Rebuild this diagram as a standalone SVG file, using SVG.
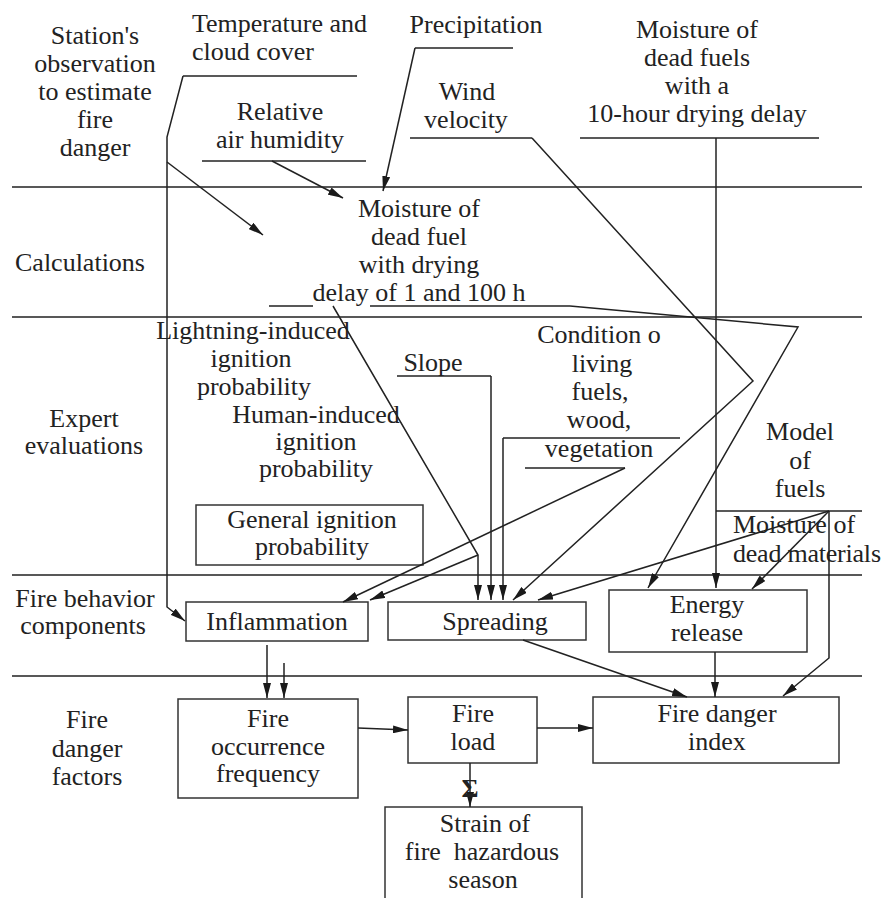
<svg xmlns="http://www.w3.org/2000/svg" width="885" height="898" viewBox="0 0 885 898">
<style>
text{font-family:"Liberation Serif","DejaVu Serif",serif;font-size:26px;fill:#222;text-anchor:middle}
.l{text-anchor:start}
.ln{stroke:#222;stroke-width:1.5;fill:none}
.bx{stroke:#333;stroke-width:1.5;fill:none}
.ar{stroke:#222;stroke-width:1.5;fill:none;marker-end:url(#ah)}
</style>
<defs>
<marker id="ah" viewBox="0 0 15 8" refX="15" refY="4" markerWidth="15" markerHeight="8" orient="auto" markerUnits="userSpaceOnUse"><path d="M0,0 L15,4 L0,8 z" fill="#1a1a1a"/></marker>
</defs>
<rect width="885" height="898" fill="#fff"/>
<g id="lanes">
<path class="ln" d="M12,187H862M12,317H862M12,575H862M12,676H862"/>
</g>
<g id="lane-station"><text x="95" y="44">Station's</text><text x="95" y="72">observation</text><text x="95" y="100">to estimate</text><text x="95" y="128">fire</text><text x="95" y="156">danger</text></g>
<g id="lane-calc"><text x="80" y="271">Calculations</text></g>
<g id="lane-expert"><text x="84" y="427">Expert</text><text x="84" y="454">evaluations</text></g>
<g id="lane-behavior"><text x="85" y="607">Fire behavior</text><text x="83" y="634">components</text></g>
<g id="lane-factors"><text x="87" y="728">Fire</text><text x="87" y="757">danger</text><text x="87" y="785">factors</text></g>

<g id="temperature"><text class="l" x="192" y="32">Temperature and</text><text class="l" x="192" y="60">cloud cover</text></g>
<g id="humidity"><text x="280" y="120">Relative</text><text x="280" y="148">air humidity</text></g>
<g id="precipitation"><text x="476" y="33">Precipitation</text></g>
<g id="wind"><text x="467" y="100">Wind</text><text x="466" y="128">velocity</text></g>
<g id="moisture10"><text x="697" y="38">Moisture of</text><text x="697" y="66">dead fuels</text><text x="697" y="94">with a</text><text x="697" y="122">10-hour drying delay</text></g>
<g id="moisture1-100"><text x="419" y="217">Moisture of</text><text x="419" y="245">dead fuel</text><text x="419" y="273">with drying</text><text x="419" y="301">delay of 1 and 100 h</text></g>
<g id="lightning"><text x="253" y="339">Lightning-induced</text><text x="251" y="367">ignition</text><text x="254" y="395">probability</text></g>
<g id="human"><text x="316" y="423">Human-induced</text><text x="316" y="450">ignition</text><text x="316" y="477">probability</text></g>
<g id="general"><rect class="bx" x="196" y="505" width="227" height="60"/><text x="312" y="528">General ignition</text><text x="312" y="555">probability</text></g>
<g id="slope"><text x="433" y="371">Slope</text></g>
<g id="condition"><text x="599" y="343">Condition o</text><text x="602" y="372">living</text><text x="600" y="400">fuels,</text><text x="599" y="428">wood,</text><text x="599" y="457">vegetation</text></g>
<g id="model"><text x="800" y="440">Model</text><text x="800" y="469">of</text><text x="800" y="497">fuels</text></g>
<g id="dead-materials"><text class="l" x="733" y="533">Moisture of</text><text class="l" x="733" y="562" textLength="148">dead materials</text></g>
<g id="inflammation"><rect class="bx" x="186" y="602" width="182" height="39"/><text x="277" y="630">Inflammation</text></g>
<g id="spreading"><rect class="bx" x="388" y="602" width="198" height="38"/><text x="495" y="630">Spreading</text></g>
<g id="energy"><rect class="bx" x="609" y="590" width="198" height="62"/><text x="707" y="613">Energy</text><text x="707" y="641">release</text></g>
<g id="occurrence"><rect class="bx" x="178" y="699" width="180" height="99"/><text x="268" y="727">Fire</text><text x="268" y="755">occurrence</text><text x="268" y="782">frequency</text></g>
<g id="load"><rect class="bx" x="408" y="697" width="129" height="66"/><text x="473" y="722">Fire</text><text x="473" y="750">load</text></g>
<g id="index"><rect class="bx" x="593" y="697" width="246" height="66"/><text x="717" y="722">Fire danger</text><text x="717" y="750">index</text></g>
<g id="strain"><rect class="bx" x="385" y="807" width="197" height="110"/><text x="485" y="832">Strain of</text><text x="482" y="860" xml:space="preserve">fire  hazardous</text><text x="483" y="888">season</text></g>

<g id="connectors">
<path class="ln" d="M183,76H357"/>
<path class="ar" d="M183,76L167,137V607L185,621"/>
<path class="ar" d="M167,162L263,235"/>
<path class="ln" d="M202,161H366"/>
<path class="ar" d="M272,161L343,198"/>
<path class="ln" d="M415,48H513"/>
<path class="ar" d="M415,48L383,191"/>
<path class="ln" d="M410,138H532"/>
<path class="ar" d="M532,138L753,381L513,600"/>
<path class="ln" d="M580,138H819"/>
<path class="ar" d="M716,138V588"/>
<path class="ln" d="M269,306H313M370,306H570"/>
<path class="ar" d="M570,306L798,327L648,588"/>
<path class="ar" d="M333,306L478,555V600"/>
<path class="ar" d="M478,555L370,600"/>
<path class="ln" d="M397,376H491"/>
<path class="ar" d="M491,376V600"/>
<path class="ln" d="M503,438H680"/>
<path class="ar" d="M503,438V600"/>
<path class="ln" d="M525,468H625"/>
<path class="ar" d="M625,468L343,602"/>
<path class="ln" d="M716,511H862"/>
<path class="ar" d="M829,511L538,600"/>
<path class="ar" d="M829,511L752,589"/>
<path class="ar" d="M829,511V658L783,696"/>
<path class="ar" d="M267,645V698"/>
<path class="ar" d="M284,663V698"/>
<path class="ar" d="M523,640L687,697"/>
<path class="ar" d="M715,652V697"/>
<path class="ar" d="M358,728L408,730"/>
<path class="ar" d="M537,728H593"/>
<path class="ar" d="M470,763V807"/>
<text x="470" y="797" style="font-weight:bold;font-size:26px">Σ</text>
</g>
</svg>
